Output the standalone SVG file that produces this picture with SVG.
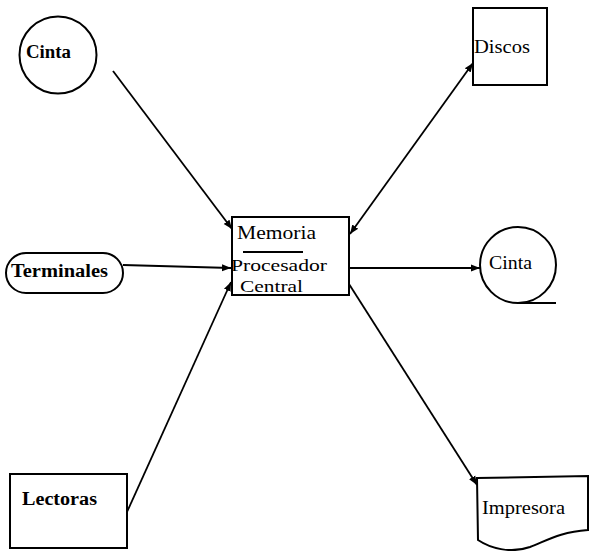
<svg xmlns="http://www.w3.org/2000/svg" width="590" height="551" viewBox="0 0 590 551">
<defs>
<marker id="ah" viewBox="0 0 10 10" refX="10" refY="5" markerWidth="9" markerHeight="9" markerUnits="userSpaceOnUse" orient="auto-start-reverse">
<path d="M0,1 L10,5 L0,9 z" fill="#000"/>
</marker>
<style>
.s{fill:#fff;stroke:#000;stroke-width:2}
.c{fill:none;stroke:#000;stroke-width:1.8}
.t{font-family:"Liberation Serif","DejaVu Serif",serif;font-size:18px;fill:#000}
.m{font-size:17px}
.b{font-weight:bold}
</style>
</defs>
<rect width="590" height="551" fill="#fff"/>
<g id="connectors">
<line class="c" x1="113" y1="71" x2="232" y2="229" marker-end="url(#ah)"/>
<line class="c" x1="123" y1="265" x2="231" y2="268" marker-end="url(#ah)"/>
<line class="c" x1="127" y1="512" x2="231" y2="282" marker-end="url(#ah)"/>
<line class="c" x1="350" y1="234" x2="473" y2="63" marker-start="url(#ah)" marker-end="url(#ah)"/>
<line class="c" x1="349" y1="268" x2="480" y2="268" marker-end="url(#ah)"/>
<line class="c" x1="349" y1="284" x2="477" y2="485" marker-end="url(#ah)"/>
</g>
<g id="cinta1">
<circle class="s" cx="58" cy="55" r="38.5"/>
<text class="t b" x="26" y="58" textLength="45" lengthAdjust="spacingAndGlyphs">Cinta</text>
</g>
<g id="terminales">
<rect class="s" x="6" y="253" width="117" height="40" rx="20" ry="20"/>
<text class="t b" x="11" y="277" textLength="97" lengthAdjust="spacingAndGlyphs">Terminales</text>
</g>
<g id="lectoras">
<rect class="s" x="10" y="474" width="117" height="74"/>
<text class="t b" x="22" y="505" textLength="75" lengthAdjust="spacingAndGlyphs">Lectoras</text>
</g>
<g id="cpu">
<rect class="s" x="232" y="217" width="117" height="78"/>
<text class="t" x="237" y="239" textLength="79" lengthAdjust="spacingAndGlyphs">Memoria</text>
<line x1="243" y1="252" x2="303" y2="252" stroke="#000" stroke-width="1.8"/>
<text class="t m" x="231" y="271" textLength="96" lengthAdjust="spacingAndGlyphs">Procesador</text>
<text class="t m" x="240" y="292" textLength="63" lengthAdjust="spacingAndGlyphs">Central</text>
</g>
<g id="discos">
<rect class="s" x="473" y="8" width="74" height="77"/>
<text class="t" x="474" y="53" textLength="56" lengthAdjust="spacingAndGlyphs">Discos</text>
</g>
<g id="cinta2">
<circle class="s" cx="518" cy="265" r="38"/>
<line x1="518" y1="303" x2="556" y2="303" stroke="#000" stroke-width="2"/>
<text class="t" x="489" y="269" textLength="43" lengthAdjust="spacingAndGlyphs">Cinta</text>
</g>
<g id="impresora">
<path class="s" d="M477,478 L588,476 L588,530 C560,532 548,540 530,547 C510,554 490,548 478,540 Z"/>
<text class="t" x="482" y="514" textLength="83" lengthAdjust="spacingAndGlyphs">Impresora</text>
</g>
</svg>
